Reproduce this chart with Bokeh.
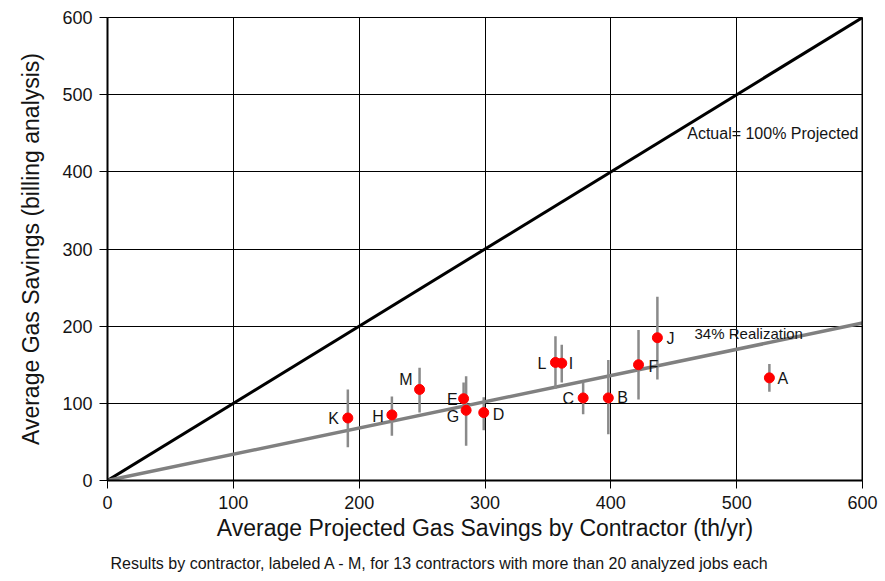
from bokeh.plotting import figure
from bokeh.models import Span, Label, FixedTicker, Range1d, ColumnDataSource, Title
from bokeh.core.properties import value
from bokeh.embed import file_html
from bokeh.resources import INLINE

# Contractor results: projected vs. measured gas savings (th/yr)
contractors = ["A", "B", "C", "D", "E", "F", "G", "H", "I", "J", "K", "L", "M"]
projected = [526, 398, 378, 299, 283, 422, 285, 226, 361, 437, 191, 356, 248]
actual = [133, 107, 107, 88, 106, 150, 91, 85, 152, 185, 81, 153, 118]
actual_low = [115, 60, 86, 65, 88, 105, 45, 58, 127, 131, 43, 119, 88]
actual_high = [151, 156, 127, 108, 127, 195, 135, 109, 176, 238, 118, 187, 146]

# Reference lines: full realization and the observed average realization
line_x = [0, 600]
full_ratio = 1.0
realized_ratio = 0.34

ticks = [0, 100, 200, 300, 400, 500, 600]

FONT = "Liberation Sans"
TEXT = "#141414"

p = figure(width=885, height=581,
           x_range=Range1d(0, 600), y_range=Range1d(0, 600),
           output_backend="svg", toolbar_location=None,
           min_border_left=107, min_border_right=23,
           min_border_top=17, min_border_bottom=101,
           background_fill_color="white", border_fill_color="white")

p.xaxis.ticker = FixedTicker(ticks=ticks)
p.yaxis.ticker = FixedTicker(ticks=ticks)
p.axis.axis_line_color = "black"
p.axis.axis_line_width = 2
p.axis.major_tick_line_color = "black"
p.axis.major_tick_out = 8
p.axis.major_tick_in = 0
p.axis.minor_tick_out = 0
p.axis.minor_tick_in = 0
p.axis.major_label_text_font = FONT
p.axis.major_label_text_font_size = "18px"
p.axis.major_label_text_color = TEXT
p.axis.major_label_standoff = 7
p.axis.axis_label_text_font = FONT
p.axis.axis_label_text_font_size = "23px"
p.axis.axis_label_text_font_style = "normal"
p.axis.axis_label_text_color = TEXT
p.xaxis.axis_label = "Average Projected Gas Savings by Contractor (th/yr)"
p.yaxis.axis_label = "Average Gas Savings (billing analysis)"
p.xaxis.axis_label_standoff = 3
p.yaxis.axis_label_standoff = 15

p.grid.grid_line_color = "black"
p.grid.grid_line_width = 1
p.outline_line_color = "black"
p.outline_line_width = 1
p.add_layout(Span(location=600, dimension="height", line_color="black", line_width=2))

# Reference lines
p.line(line_x, [v * full_ratio for v in line_x], line_color="black", line_width=3)
p.line(line_x, [v * realized_ratio for v in line_x], line_color="#808080", line_width=3.5)

# Error bars and contractor means
src = ColumnDataSource(dict(x=projected, y=actual, lo=actual_low, hi=actual_high,
                            name=contractors))
p.segment(x0="x", y0="lo", x1="x", y1="hi", source=src,
          line_color="#8a8a8a", line_width=2.5)
p.scatter(x="x", y="y", source=src, size=10, fill_color="#ff0000",
          line_color="#ff0000")

# Letter labels beside each point (pixel offsets, right or left of the dot)
label_offsets = {
    "A": (8, 1), "B": (9, 0), "D": (9, 2), "F": (10, 2), "I": (7, 0), "J": (9, 1),
    "C": (-9, 1), "E": (-6, 1), "G": (-7, 6), "H": (-8, 2), "K": (-9, 1),
    "L": (-9, 1), "M": (-7, -10),
}
for side, align in (("right", "left"), ("left", "right")):
    sel = [i for i, c in enumerate(contractors)
           if (label_offsets[c][0] > 0) == (side == "right")]
    p.text(x=[projected[i] for i in sel], y=[actual[i] for i in sel],
           text=[contractors[i] for i in sel],
           x_offset=[label_offsets[contractors[i]][0] for i in sel],
           y_offset=[label_offsets[contractors[i]][1] for i in sel],
           text_align=align, text_baseline="middle",
           text_font=value(FONT), text_font_size="16px", text_color=TEXT)

p.add_layout(Label(x=460.7, y=449.7, text="Actual= 100% Projected",
                   text_font=FONT, text_font_size="16px", text_color=TEXT,
                   text_baseline="middle"))
p.add_layout(Label(x=466.5, y=190, text="34% Realization",
                   text_font=FONT, text_font_size="15px", text_color=TEXT,
                   text_baseline="middle"))

# Caption under the x-axis title
p.add_layout(Title(text="Results by contractor, labeled A - M, for 13 contractors with more than 20 analyzed jobs each",
                   align="left", offset=3, standoff=19,
                   text_font=FONT, text_font_size="16px", text_font_style="normal",
                   text_color=TEXT), "below")

open("out.html", "w").write(file_html(p, INLINE))
